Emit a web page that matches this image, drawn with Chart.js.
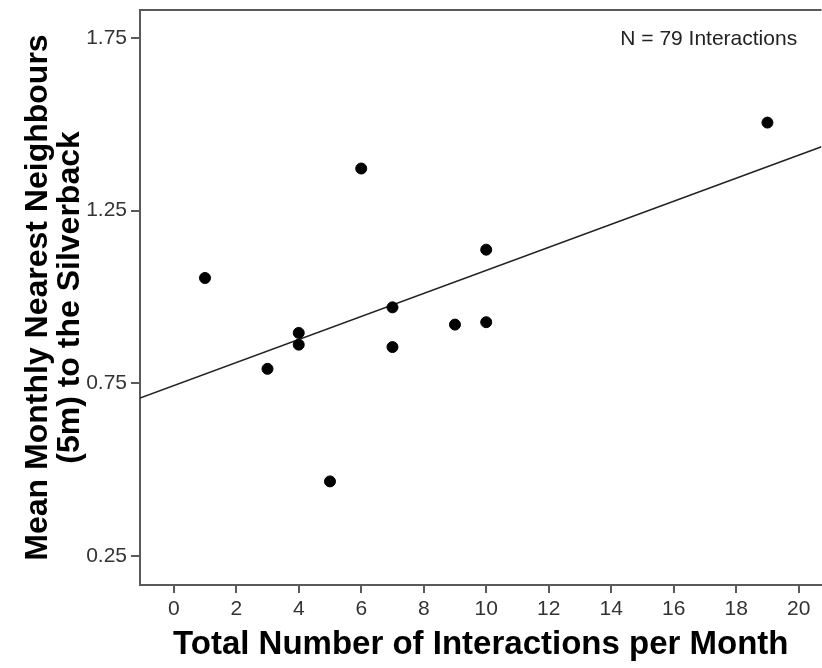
<!DOCTYPE html>
<html>
<head>
<meta charset="utf-8">
<script src="https://cdn.jsdelivr.net/npm/chart.js@4"></script>
<style>
  html, body { margin: 0; padding: 0; background: #fff; overflow: hidden; }
  #wrap { position: relative; width: 828px; height: 668px; }
</style>
</head>
<body>
<div id="wrap"><canvas id="scatterChart"></canvas></div>
<script>
// interactions per month vs mean nearest neighbours
var interactions = [1, 3, 4, 4, 5, 6, 7, 7, 9, 10, 10, 19];
var neighbours = [1.055, 0.792, 0.896, 0.862, 0.466, 1.372, 0.970, 0.855, 0.920, 0.927, 1.137, 1.505];
var xTicks = [0, 2, 4, 6, 8, 10, 12, 14, 16, 18, 20];
var yTicks = [0.25, 0.75, 1.25, 1.75];
var xRange = [-1.08, 20.73];
var yRange = [0.166, 1.831];
var noteText = 'N = 79 Interactions';

// least squares fit line
var n = interactions.length;
var mx = interactions.reduce((a, b) => a + b, 0) / n;
var my = neighbours.reduce((a, b) => a + b, 0) / n;
var sxy = 0, sxx = 0;
for (var i = 0; i < n; i++) {
    sxy += (interactions[i] - mx) * (neighbours[i] - my);
    sxx += (interactions[i] - mx) * (interactions[i] - mx);
}
var slope = sxy / sxx;
var intercept = my - slope * mx;
var fitLine = xRange.map(x => ({ x: x, y: intercept + slope * x }));

var frameColor = '#5a5a5a';
var fontFamily = '"Liberation Sans", Arial, sans-serif';

var framePlugin = {
    id: 'frame',
    afterDatasetsDraw: function (chart) {
        var ctx = chart.ctx, a = chart.chartArea;
        ctx.save();
        ctx.strokeStyle = frameColor;
        ctx.lineWidth = 2;
        ctx.beginPath();
        ctx.moveTo(a.left, a.top);
        ctx.lineTo(a.right, a.top);
        ctx.stroke();
        // annotation in top right
        var xs = chart.scales.x, ys = chart.scales.y;
        ctx.fillStyle = '#222';
        ctx.font = '21px ' + fontFamily;
        ctx.textAlign = 'right';
        ctx.textBaseline = 'middle';
        ctx.fillText(noteText, xs.getPixelForValue(19.95), ys.getPixelForValue(1.745));
        ctx.restore();
    }
};

var ctx = document.getElementById('scatterChart').getContext('2d');
var chart = new Chart(ctx, {
    type: 'scatter',
    data: {
        datasets: [{
            label: 'Months',
            data: interactions.map((x, i) => ({ x: x, y: neighbours[i] })),
            backgroundColor: '#000',
            borderColor: '#000',
            pointRadius: 5.5,
            pointHoverRadius: 5.5
        }, {
            type: 'line',
            label: 'Fit',
            data: fitLine,
            borderColor: '#222',
            borderWidth: 1.5,
            pointRadius: 0,
            fill: false
        }]
    },
    options: {
        responsive: true,
        maintainAspectRatio: false,
        animation: false,
        layout: { padding: { left: 0, right: 0, top: 10, bottom: 0 } },
        plugins: {
            legend: { display: false },
            tooltip: { enabled: false }
        },
        scales: {
            x: {
                type: 'linear',
                min: xRange[0],
                max: xRange[1],
                afterBuildTicks: function (scale) {
                    scale.ticks = xTicks.map(v => ({ value: v }));
                },
                afterFit: function (scale) {
                    scale.height = 83;
                },
                grid: { drawOnChartArea: false, drawTicks: true, tickLength: 8, color: frameColor, lineWidth: 2 },
                border: { display: true, color: frameColor, width: 2 },
                ticks: {
                    color: '#333',
                    padding: 4,
                    maxRotation: 0,
                    font: { family: fontFamily, size: 21 }
                },
                title: {
                    display: true,
                    text: 'Total Number of Interactions per Month',
                    color: '#000',
                    padding: { top: 0, bottom: 3 },
                    font: { family: fontFamily, size: 33, weight: 'bold', lineHeight: 1.2 }
                }
            },
            y: {
                type: 'linear',
                min: yRange[0],
                max: yRange[1],
                afterBuildTicks: function (scale) {
                    scale.ticks = yTicks.map(v => ({ value: v }));
                },
                afterFit: function (scale) {
                    scale.width = 140;
                    scale.paddingTop = 0;
                    scale.paddingBottom = 0;
                },
                grid: { drawOnChartArea: false, drawTicks: true, tickLength: 9, color: frameColor, lineWidth: 2 },
                border: { display: true, color: frameColor, width: 2 },
                ticks: {
                    color: '#333',
                    padding: 4,
                    callback: v => v.toFixed(2),
                    font: { family: fontFamily, size: 21 }
                },
                title: {
                    display: true,
                    text: ['Mean Monthly Nearest Neighbours', '(5m) to the Silverback'],
                    color: '#000',
                    padding: { top: 22, bottom: 0 },
                    font: { family: fontFamily, size: 32, weight: 'bold', lineHeight: 1.0 }
                }
            }
        }
    },
    plugins: [framePlugin]
});
</script>
</body>
</html>
